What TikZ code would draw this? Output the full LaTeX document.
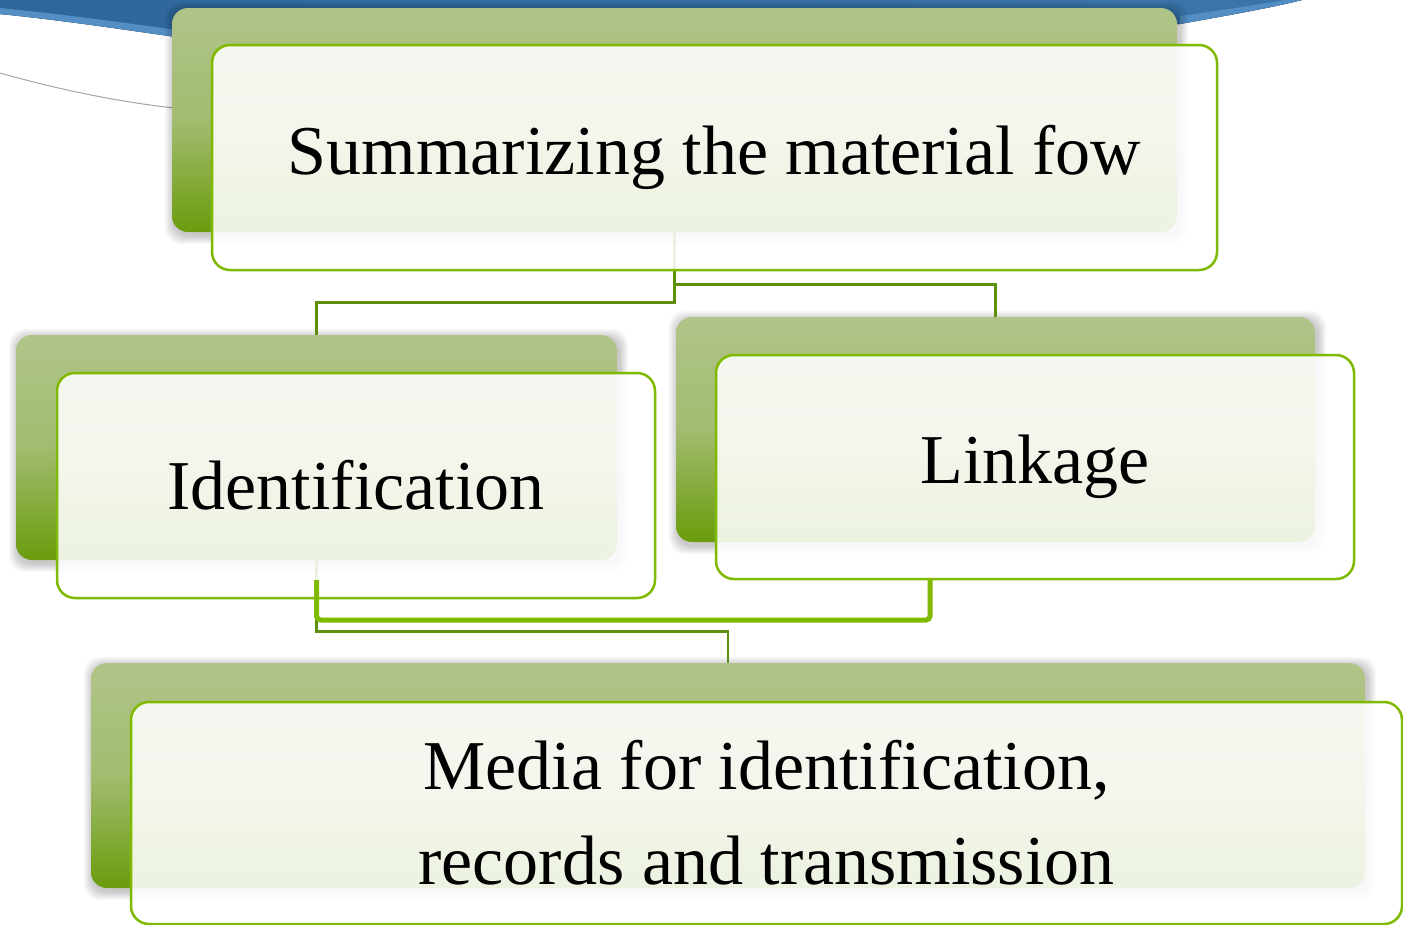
\documentclass[tikz,border=0pt]{standalone}
\usepackage{fontspec}
\setmainfont{Liberation Serif}
\definecolor{bord}{HTML}{7FBA00}
\definecolor{dconn}{HTML}{5E8F0C}
\definecolor{gtop}{HTML}{B0C489}
\definecolor{gbot}{HTML}{6A9C0C}
\definecolor{bluedark}{HTML}{2F6699}
\definecolor{bluelight}{HTML}{5C98CF}
\tikzset{
  backbox/.style={rectangle, rounded corners=16pt, top color=gtop, bottom color=gbot, middle color=gtop!80!gbot, draw=none, inner sep=0pt},
  frontbox/.style={rectangle, rounded corners=18pt, draw=bord, line width=2.5pt, fill=white, fill opacity=0.88, text opacity=1, text=black, align=center, inner sep=0pt, font=\fontsize{70}{95}\selectfont},
  thinconn/.style={draw=dconn, line width=2.6pt},
  thickconn/.style={draw=bord, line width=5pt, rounded corners=4pt},
}
\newcommand{\mysoftshadow}[1]{%
  \foreach \i in {1,...,9}{%
    \fill[black, opacity=0.022, rounded corners=16pt]
      ([shift={(-\i pt+2pt,\i pt-3pt)}]#1.north west) rectangle ([shift={(\i pt+2pt,-\i pt-3pt)}]#1.south east);
  }%
}
\begin{document}
\begin{tikzpicture}[x=1pt,y=-1pt]
\useasboundingbox (0,0) rectangle (1403,924);
\fill[white] (0,0) rectangle (1403,924);
% blue swoosh
\fill[left color=bluedark, right color=bluedark!70!bluelight] (0,0) -- (0,14) .. controls (60,20) and (120,29) .. (176,37) -- (1180,24) .. controls (1230,15) and (1270,8) .. (1302,0) -- cycle;
\fill[bluelight, opacity=0.8] (0,8) .. controls (60,14) and (120,22) .. (176,30) -- (176,37) .. controls (120,29) and (60,20) .. (0,14) -- cycle;
\fill[bluelight, opacity=0.7] (1180,16) .. controls (1230,9) and (1262,4) .. (1285,0) -- (1302,0) .. controls (1270,8) and (1230,15) .. (1180,24) -- cycle;
\draw[gray!70, line width=1pt] (0,73) .. controls (60,90) and (120,102) .. (174,108);

% back-box positions (shadows drawn first)
\path (674.5,120) node[minimum width=1005pt, minimum height=224pt, inner sep=0pt] (sTop) {}
      (316.5,447.5) node[minimum width=601pt, minimum height=225pt, inner sep=0pt] (sLeft) {}
      (995.5,429.5) node[minimum width=639pt, minimum height=225pt, inner sep=0pt] (sRight) {}
      (728,775.5) node[minimum width=1274pt, minimum height=225pt, inner sep=0pt] (sBot) {};
\mysoftshadow{sTop}
\mysoftshadow{sLeft}
\mysoftshadow{sRight}
\mysoftshadow{sBot}

% back boxes
\node[backbox, minimum width=1005pt, minimum height=224pt] (topB) at (674.5,120) {};
\node[backbox, minimum width=601pt, minimum height=225pt] (leftB) at (316.5,447.5) {};
\node[backbox, minimum width=639pt, minimum height=225pt] (rightB) at (995.5,429.5) {};
\node[backbox, minimum width=1274pt, minimum height=225pt] (botB) at (728,775.5) {};

% connectors (thin)
\draw[thinconn] (topB.south) -- ++(0,70) -| (leftB.north);
\draw[thinconn] (topB.south) -- ++(0,52) -| (rightB.north);
\draw[thinconn] (leftB.south) -- ++(0,71) -| (botB.north);

% front boxes
\node[frontbox, minimum width=1005pt, minimum height=225pt] (topF) at (714.5,157.5) {Summarizing the material fow};
\node[frontbox, minimum width=598pt, minimum height=225pt] (leftF) at (356,485.5) {Identification};
\node[frontbox, minimum width=638pt, minimum height=224pt] (rightF) at (1035,467) {Linkage};
\node[frontbox, minimum width=1271pt, minimum height=222pt] (botF) at (766.5,813) {Media for identification,\\records and transmission};

% thick connector
\coordinate (tk1) at (316.5,580);
\coordinate (tk2) at (930,580);
\draw[thickconn] (tk1) -- ++(0,40) -| (tk2);
\end{tikzpicture}
\end{document}
